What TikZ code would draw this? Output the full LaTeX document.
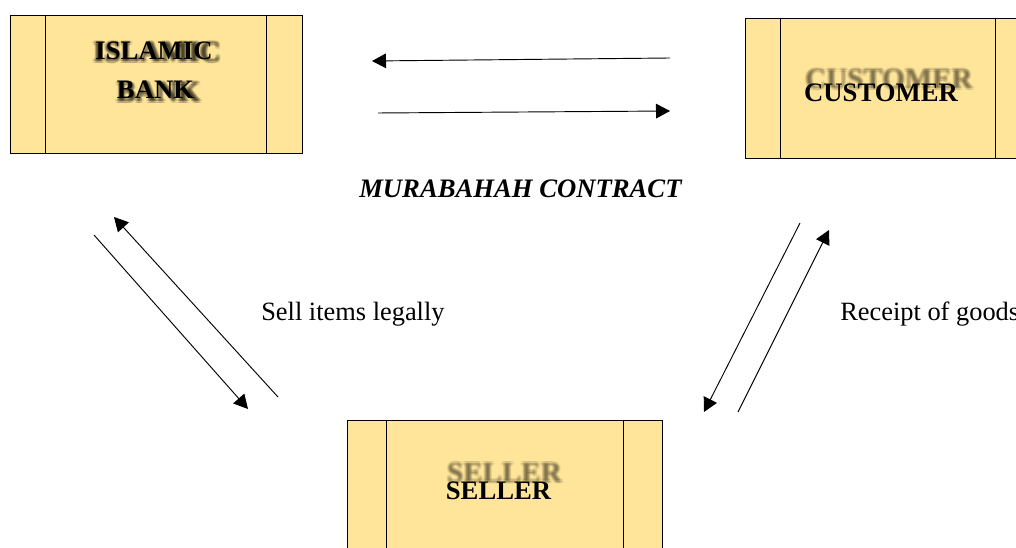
\documentclass[tikz,border=0pt]{standalone}
\usepackage{fontspec}
\setmainfont{Liberation Serif}
\usetikzlibrary{arrows.meta,calc}
\definecolor{boxfill}{HTML}{FFE599}
\tikzset{
  panel/.style={draw=black, fill=boxfill, line width=0.7pt, inner sep=0pt},
  flow/.style={line width=0.7pt, -{Triangle[length=10.5pt,width=11pt]}},
  title/.style={font=\fontsize{20}{24}\selectfont\bfseries, inner sep=0pt, anchor=base},
  ghost/.style={font=\fontsize{20}{24}\selectfont\bfseries, inner sep=0pt, anchor=base,
                text=black, scale=1.09},
  caption/.style={font=\fontsize{19.8}{24}\selectfont, inner sep=0pt, anchor=base west},
}
% blurred drop-shadow text: many faint copies spread around one point
\newcommand{\ghosttext}[4]{%
  \foreach \dx/\dy [count=\k] in {0/0,1/0,-1/0,0/1,0/-1,2/0,-2/0,0/2,0/-2,1.4/1.4,-1.4/-1.4,1.4/-1.4,-1.4/1.4}{
    \node[ghost, text opacity=#4] (#1-\k) at ($(#2)+(\dx,\dy)$) {#3};
  }%
}
\begin{document}
\begin{tikzpicture}[x=0.75pt,y=-0.75pt]
\useasboundingbox (0,0) rectangle (1016,548);
\clip (0,0) rectangle (1016,548);

% panels
\node[panel, minimum width=219pt, minimum height=103.5pt] (bank) at (156,84) {};
\node[panel, minimum width=214.5pt, minimum height=105pt] (cust) at (888,88) {};
\node[panel, minimum width=236.25pt, minimum height=105pt] (sell) at (504.5,490) {};

% inner side bands
\draw[line width=0.7pt] ([xshift=27pt]bank.north west) -- ([xshift=27pt]bank.south west);
\draw[line width=0.7pt] ([xshift=-27pt]bank.north east) -- ([xshift=-27pt]bank.south east);
\draw[line width=0.7pt] ([xshift=27pt]cust.north west) -- ([xshift=27pt]cust.south west);
\draw[line width=0.7pt] ([xshift=-27pt]cust.north east) -- ([xshift=-27pt]cust.south east);
\draw[line width=0.7pt] ([xshift=30pt]sell.north west) -- ([xshift=30pt]sell.south west);
\draw[line width=0.7pt] ([xshift=-29.25pt]sell.north east) -- ([xshift=-29.25pt]sell.south east);

% shadowed titles
\coordinate (gA) at (157,62);
\coordinate (gB) at (158.5,102);
\coordinate (gC) at (889,89);
\coordinate (gS) at (504.5,482);
\ghosttext{shA}{gA}{ISLAMIC}{0.09}
\ghosttext{shB}{gB}{BANK}{0.09}
\ghosttext{shC}{gC}{CUSTOMER}{0.05}
\ghosttext{shS}{gS}{SELLER}{0.05}

\node[title] (bankA) at (154,60) {ISLAMIC};
\node[title] (bankB) at (155.5,99) {BANK};
\node[title] (custT) at (881,102) {CUSTOMER};
\node[title] (sellT) at (498.5,499) {SELLER};

% labels
\node[font=\fontsize{20}{24}\selectfont\bfseries\itshape, inner sep=0pt, anchor=base west] (contract) at (359,198) {MURABAHAH CONTRACT};
\node[caption] (legal) at (261,321) {Sell items legally};
\node[caption] (receipt) at (840,321) {Receipt of goods};

% connector end points
\coordinate (p1s) at (670,58);  \coordinate (p1e) at (372,61);
\coordinate (p2s) at (378,113); \coordinate (p2e) at (670,111);
\coordinate (p3s) at (94,235);  \coordinate (p3e) at (248,409);
\coordinate (p4s) at (278,397); \coordinate (p4e) at (114,217);
\coordinate (p5s) at (800,223); \coordinate (p5e) at (704,412);
\coordinate (p6s) at (738,412); \coordinate (p6e) at (829,230);

\draw[flow] (p1s) -- (p1e);
\draw[flow] (p2s) -- (p2e);
\draw[flow] (p3s) -- (p3e);
\draw[flow] (p4s) -- (p4e);
\draw[flow] (p5s) -- (p5e);
\draw[flow] (p6s) -- (p6e);
\end{tikzpicture}
\end{document}
